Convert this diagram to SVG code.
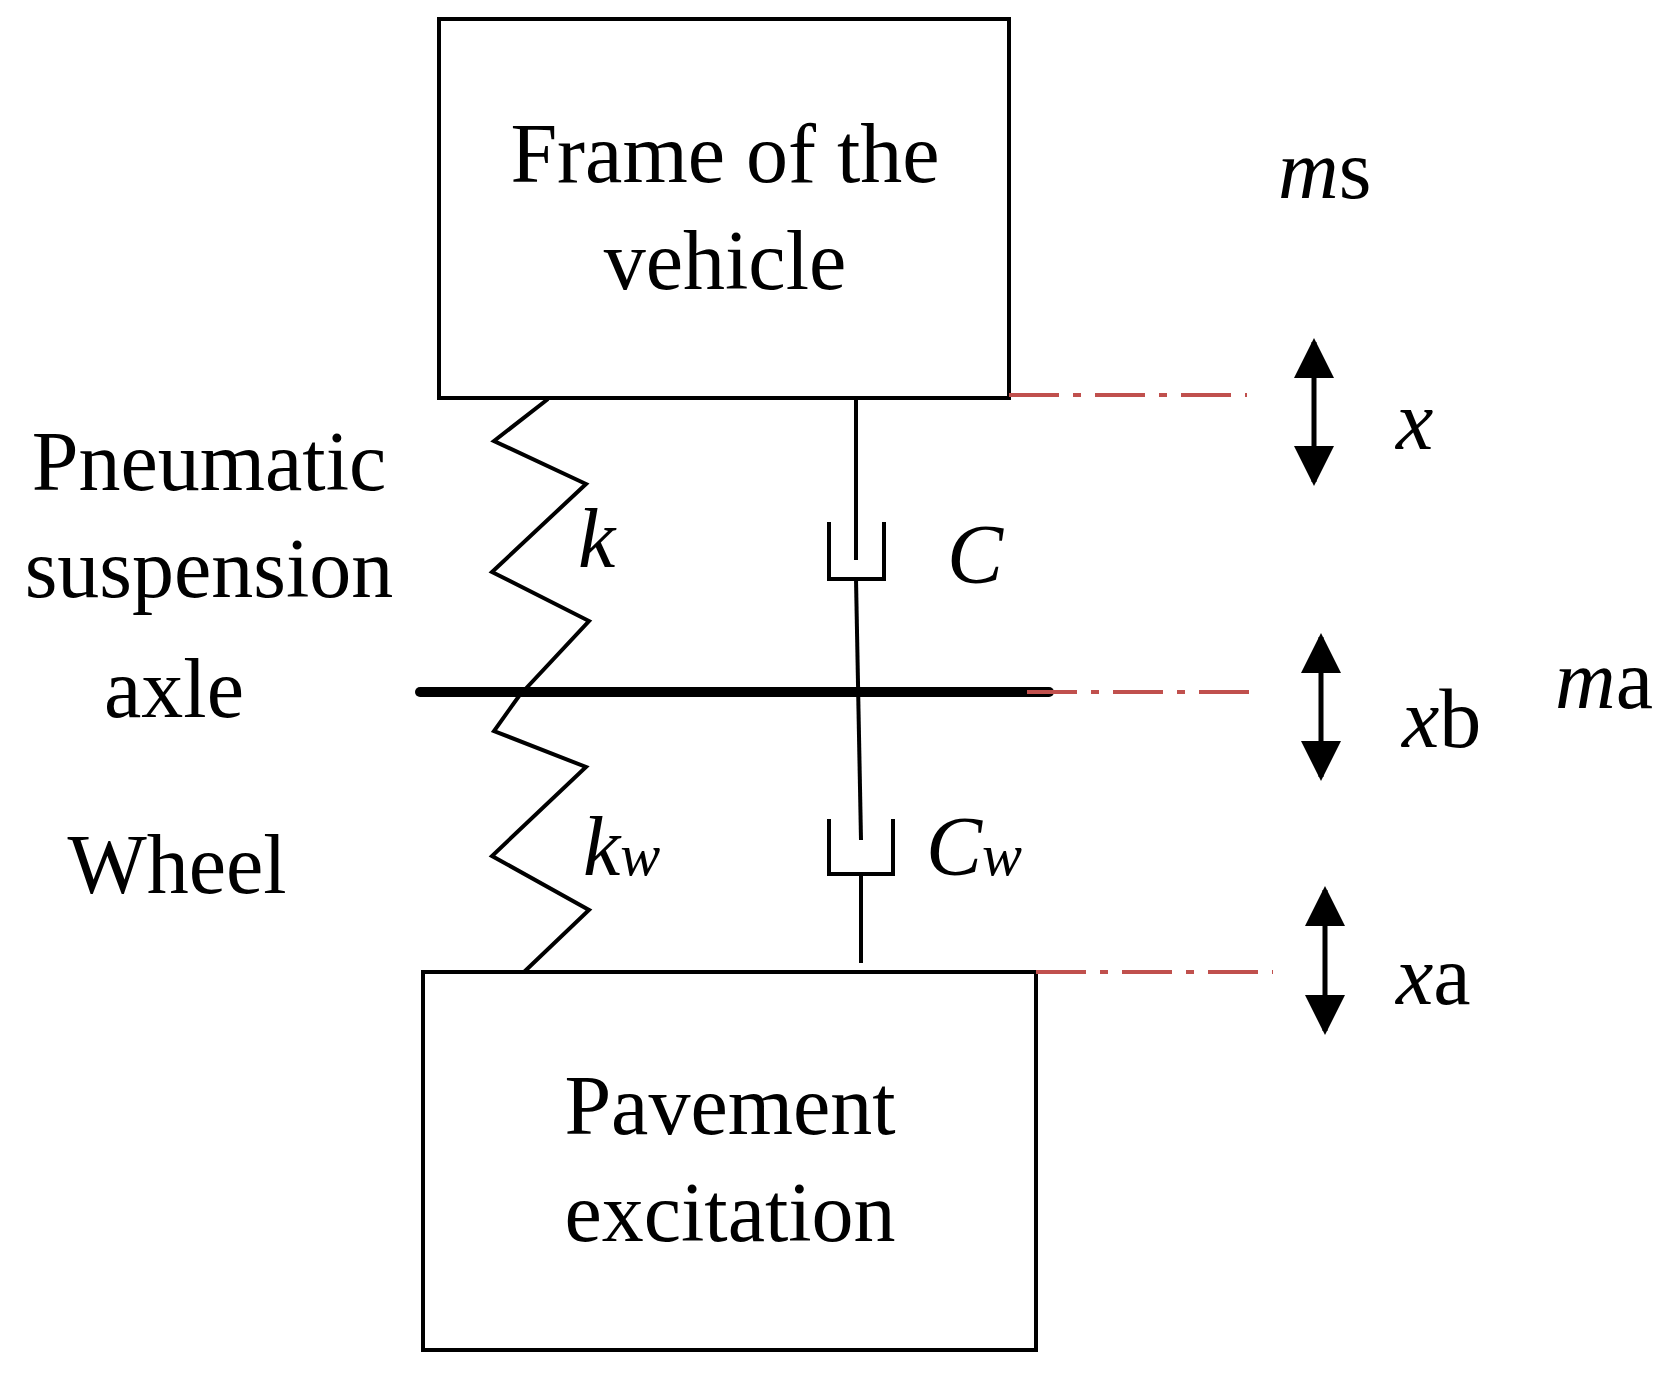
<svg xmlns="http://www.w3.org/2000/svg" width="1673" height="1374" viewBox="0 0 1673 1374">
<style>
.b{fill:none;stroke:#000;stroke-width:4}
.t{font-family:"Liberation Serif",serif;font-size:84px;fill:#000}
.i{font-style:italic}
.r{stroke:#c0504d;stroke-width:4;stroke-dasharray:50,14,8,14;fill:none}
.a{stroke:#000;stroke-width:5;marker-start:url(#h);marker-end:url(#h)}
</style>
<defs><marker id="h" viewBox="0 0 10 10" refX="8" refY="5" markerWidth="7" markerHeight="7" orient="auto-start-reverse" markerUnits="userSpaceOnUse"><path d="M0,0L10,5L0,10z" fill="#000"/></marker></defs>
<defs><marker id="hh" viewBox="0 0 10 10" refX="9" refY="5" markerWidth="40" markerHeight="44" orient="auto-start-reverse" markerUnits="userSpaceOnUse"><path d="M0,0L10,5L0,10z" fill="#000"/></marker></defs>
<g id="frame"><rect class="b" x="439" y="19" width="570" height="379"/><text class="t" x="725" y="182" text-anchor="middle">Frame of the</text><text class="t" x="725" y="289" text-anchor="middle">vehicle</text></g>
<g id="pavement"><rect class="b" x="423" y="972" width="613" height="378"/><text class="t" x="730" y="1134" text-anchor="middle">Pavement</text><text class="t" x="730" y="1241" text-anchor="middle">excitation</text></g>
<g id="connectors">
<line x1="420" y1="692" x2="1049" y2="692" stroke="#000" stroke-width="10" stroke-linecap="round"/>
<polyline class="b" points="548,399 494,441 586,484 492,572 589,621 519,696 494,731 586,767 492,856 589,910 524,972"/>
<line class="b" x1="856" y1="398" x2="856" y2="560"/>
<polyline class="b" points="829,522 829,579 884,579 884,522"/>
<line class="b" x1="856" y1="579" x2="861" y2="840"/>
<polyline class="b" points="829,819 829,874 893,874 893,819"/>
<line class="b" x1="861" y1="874" x2="861" y2="963"/>
<line class="r" x1="1009" y1="395" x2="1247" y2="395"/>
<line class="r" x1="1027" y1="692" x2="1263" y2="692"/>
<line class="r" x1="1036" y1="972" x2="1273" y2="972"/>
<line x1="1314" y1="342" x2="1314" y2="482" stroke="#000" stroke-width="5" marker-start="url(#hh)" marker-end="url(#hh)"/>
<line x1="1321" y1="637" x2="1321" y2="777" stroke="#000" stroke-width="5" marker-start="url(#hh)" marker-end="url(#hh)"/>
<line x1="1325" y1="890" x2="1325" y2="1031" stroke="#000" stroke-width="5" marker-start="url(#hh)" marker-end="url(#hh)"/>
</g>
<g id="labels">
<text class="t" x="209" y="490" text-anchor="middle">Pneumatic</text>
<text class="t" x="209" y="597" text-anchor="middle">suspension</text>
<text class="t" x="174" y="717" text-anchor="middle">axle</text>
<text class="t" x="177" y="893" text-anchor="middle">Wheel</text>
<text class="t" x="1278" y="198"><tspan class="i">m</tspan>s</text>
<text class="t i" x="578" y="567">k</text>
<text class="t i" x="947" y="583">C</text>
<text class="t i" x="1396" y="449">x</text>
<text class="t" x="1555" y="708"><tspan class="i">m</tspan>a</text>
<text class="t" x="1402" y="747"><tspan class="i">x</tspan>b</text>
<text class="t i" x="583" y="875">k<tspan font-size="60">w</tspan></text>
<text class="t i" x="926" y="875">C<tspan font-size="60">w</tspan></text>
<text class="t" x="1396" y="1004"><tspan class="i">x</tspan>a</text>
</g>
</svg>
